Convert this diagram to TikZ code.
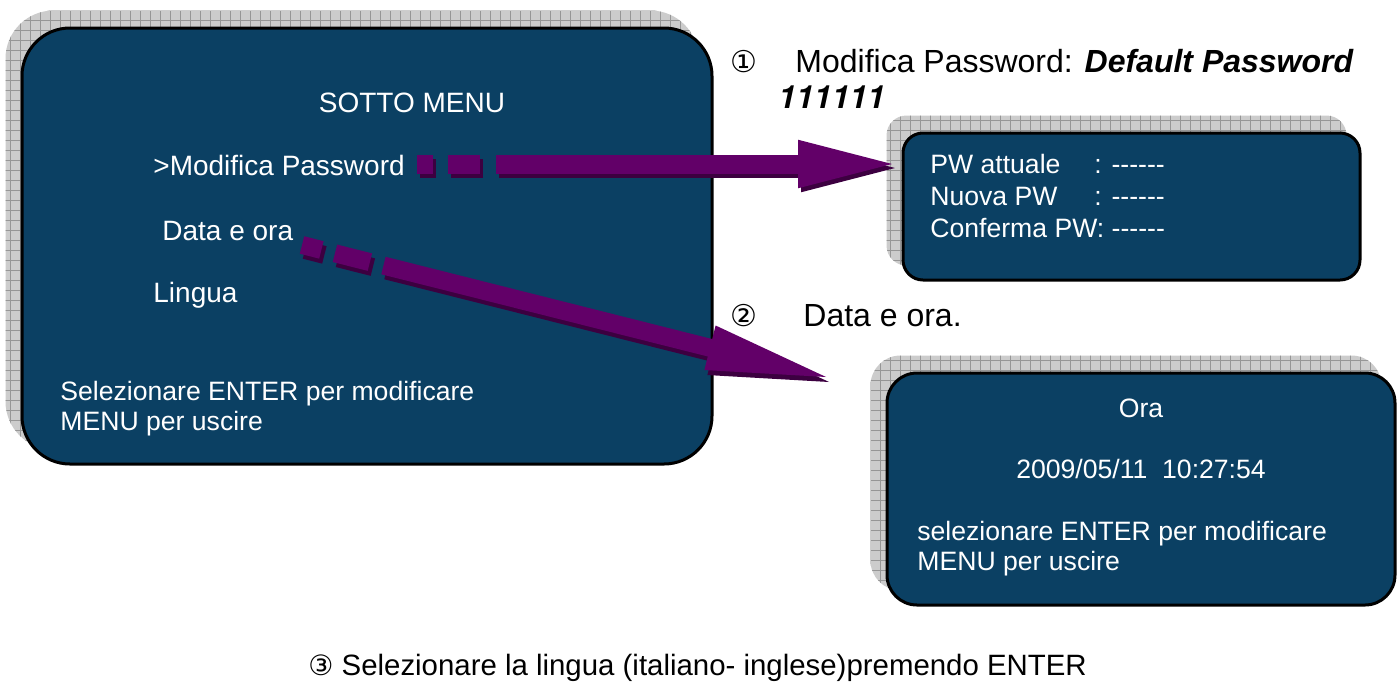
\documentclass[tikz,border=0pt]{standalone}
\usepackage{fontspec}
\setmainfont{Liberation Sans}
\newfontfamily\circfont{DejaVu Sans}
\newfontfamily\heros{TeX Gyre Heros}
\usetikzlibrary{arrows.meta}
\usetikzlibrary{positioning}
\usetikzlibrary{backgrounds}

\definecolor{screenblue}{RGB}{11,64,99}
\definecolor{arrowpurple}{RGB}{98,0,104}
\definecolor{arrowdark}{RGB}{60,0,64}
\definecolor{shadowgray}{RGB}{204,204,204}
\definecolor{gridgray}{RGB}{150,150,150}

\tikzset{
  screen/.style={draw=black, line width=1.5pt, fill=screenblue, inner sep=0pt},
  menutext/.style={text=white, inner sep=0pt, anchor=base west, font=\fontsize{14}{17}\selectfont},
  hinttext/.style={text=white, inner sep=0pt, anchor=base west, font=\fontsize{13.3}{15}\selectfont},
  steptext/.style={inner sep=0pt, anchor=base west, font=\fontsize{16}{19}\selectfont},
  numtext/.style={inner sep=0pt, anchor=base west, font=\circfont\fontsize{15}{17}\selectfont},
  pwarrow/.style={line width=9.5pt, -{Triangle[length=52pt,width=21pt]},
    dash pattern=on 8pt off 7.5pt on 16pt off 8pt on 600pt off 0pt},
  dataarrow/.style={line width=9pt, -{Triangle[length=66pt,width=20pt]},
    dash pattern=on 10pt off 7pt on 18pt off 7pt on 600pt off 0pt}
}

% gray grid shadow behind a screen
\newcommand\gridshadow[2]{%
  \begin{scope}
    \clip[rounded corners=#2] ([shift={(-15,-16)}]#1.south west) rectangle ([shift={(-15,-16)}]#1.north east);
    \fill[shadowgray] (0,0) rectangle (1398,682);
    \draw[gridgray, line width=0.5pt, step=5pt] (0,0) grid (1398,682);
  \end{scope}}
\newcommand\pwdash{\mbox{-}\mbox{-}\mbox{-}\mbox{-}\mbox{-}\mbox{-}}

\begin{document}
\begin{tikzpicture}[x=0.5pt, y=-0.5pt]
    \useasboundingbox (0,0) rectangle (1398,682);

    % screens
    \node (menu) [screen, rounded corners=24pt, minimum width=345pt, minimum height=218pt] at (367,246) {};
    \node (pwbox) [screen, rounded corners=10pt, minimum width=228.5pt, minimum height=73.5pt] at (1131.5,206.5) {};
    \node (orabox) [screen, rounded corners=15pt, minimum width=254pt, minimum height=116pt] at (1141,489) {};

    \begin{pgfonlayer}{background}
      \gridshadow{menu}{24pt}
      \gridshadow{pwbox}{10pt}
      \gridshadow{orabox}{15pt}
    \end{pgfonlayer}

    % sotto menu
    \node (title) [menutext, anchor=base] at (412,112) {SOTTO MENU};
    \node (itempw) [menutext] at (153,175) {>Modifica Password};
    \node (itemdata) [menutext] at (162,240) {Data e ora};
    \node (itemlang) [menutext] at (153,302) {Lingua};
    \node (menuhint) [hinttext] at (60,400) {Selezionare ENTER per modificare};
    \node (menuexit) [hinttext] at (60,430) {MENU per uscire};

    % password
    \node (numone) [numtext] at (730,72) {①};
    \node (stepone) [steptext] at (795,72) {Modifica Password: \bfseries\itshape Default Password};
    \node (steponepw) [steptext, font=\heros\fontsize{16}{19}\selectfont\bfseries\itshape] at (778,108) {111111};
    \node (pwold) [hinttext] at (930,173) {\makebox[82pt][l]{PW attuale}: \pwdash};
    \node (pwnew) [hinttext] at (930,205) {\makebox[82pt][l]{Nuova PW}: \pwdash};
    \node (pwconf) [hinttext] at (930,237) {Conferma PW: \pwdash};

    % data e ora
    \node (numtwo) [numtext] at (730,326) {②};
    \node (steptwo) [steptext] at (803,326) {Data e ora.};
    \node (oratitle) [hinttext, anchor=base] at (1141,417) {Ora};
    \node (oratime) [hinttext, anchor=base] at (1141,478) {2009/05/11\ \ 10:27:54};
    \node (orahint) [hinttext] at (917,540) {selezionare ENTER per modificare};
    \node (oraexit) [hinttext] at (917,570) {MENU per uscire};

    % lingua
    \node (stepthree) [inner sep=0pt, anchor=base west, font=\fontsize{14.7}{17}\selectfont] at (308,675)
      {{\circfont\fontsize{14}{16}\selectfont ③} Selezionare la lingua (italiano- inglese)premendo ENTER};

    % arrows
    \coordinate (pwfrom) at (417,164);
    \coordinate (pwto) at (902,164);
    \coordinate (datafrom) at (302,245);
    \coordinate (datato) at (838,380);
    \draw [pwarrow, arrowdark] ([shift={(3,4)}]pwfrom) -- ([shift={(3,4)}]pwto);
    \draw [pwarrow, arrowpurple] (pwfrom) -- (pwto);
    \draw [dataarrow, arrowdark] ([shift={(3,5)}]datafrom) -- ([shift={(3,5)}]datato);
    \draw [dataarrow, arrowpurple] (datafrom) -- (datato);
\end{tikzpicture}
\end{document}
